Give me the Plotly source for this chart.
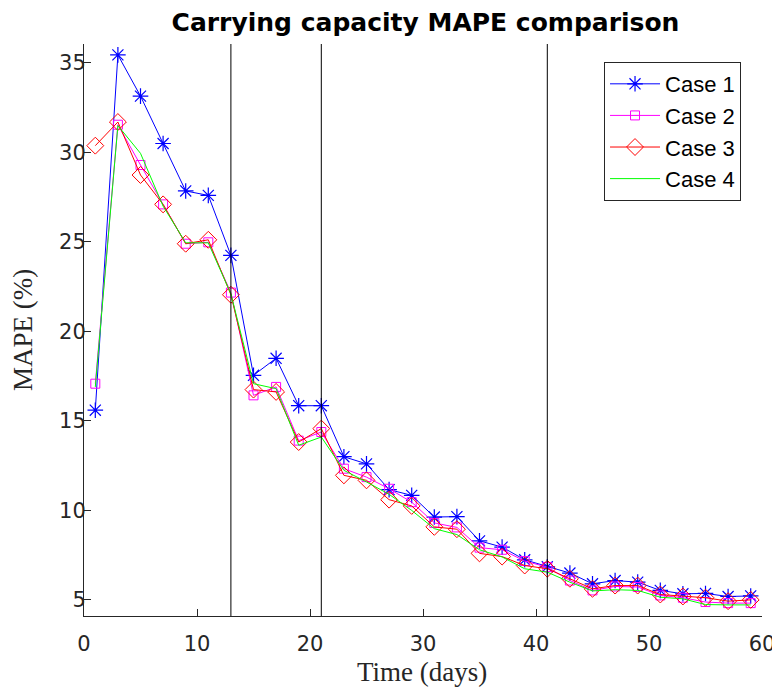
import plotly.graph_objects as go

days = [1, 3, 5, 7, 9, 11, 13, 15, 17, 19, 21, 23, 25, 27, 29, 31, 33, 35, 37, 39,
        41, 43, 45, 47, 49, 51, 53, 55, 57, 59]

case1 = [15.6, 35.45, 33.15, 30.5, 27.85, 27.6, 24.25, 17.55, 18.5, 15.85, 15.85, 13.0,
         12.6, 11.16, 10.84, 9.63, 9.65, 8.3, 7.95, 7.24, 6.85, 6.5, 5.9, 6.08, 5.99,
         5.53, 5.34, 5.36, 5.19, 5.22]
case2 = [17.08, 31.55, 29.3, 27.1, 24.9, 24.98, 22.17, 16.43, 16.9, 13.9, 14.38, 12.33,
         11.86, 11.21, 10.46, 9.3, 9.05, 7.92, 7.8, 7.17, 6.83, 6.08, 5.53, 5.75, 5.72,
         5.25, 5.12, 4.88, 4.82, 4.82]
case3 = [30.38, 31.7, 28.74, 27.1, 24.9, 25.12, 22.05, 16.75, 16.62, 13.82, 14.57, 11.96,
         11.68, 10.6, 10.25, 9.08, 8.95, 7.6, 7.42, 6.92, 6.74, 6.18, 5.62, 5.8, 5.8,
         5.3, 5.19, 5.12, 4.93, 5.0]
case4 = [16.9, 31.5, 29.95, 27.0, 24.95, 24.95, 22.1, 17.08, 16.8, 13.64, 14.1, 12.24,
         11.59, 10.9, 10.0, 8.98, 8.65, 7.8, 7.4, 6.74, 6.55, 5.99, 5.5, 5.57, 5.53,
         5.15, 5.06, 4.74, 4.72, 4.72]

vlines_x = [13, 21, 41]
x_ticks = [0, 10, 20, 30, 40, 50, 60]
y_ticks = [5, 10, 15, 20, 25, 30, 35]

fig = go.Figure()
fig.add_trace(go.Scatter(x=days, y=case1, name="Case 1", mode="lines+markers",
                         line=dict(color="#0000ff", width=1),
                         marker=dict(symbol="asterisk-open", size=13,
                                     line=dict(color="#0000ff", width=1.2))))
fig.add_trace(go.Scatter(x=days, y=case2, name="Case 2", mode="lines+markers",
                         line=dict(color="#ff00ff", width=1),
                         marker=dict(symbol="square-open", size=9, color="#ff00ff",
                                     line=dict(color="#ff00ff", width=1))))
fig.add_trace(go.Scatter(x=days, y=case3, name="Case 3", mode="lines+markers",
                         line=dict(color="#ff0000", width=1),
                         marker=dict(symbol="diamond-open", size=13, color="#ff0000",
                                     line=dict(color="#ff0000", width=1))))
fig.add_trace(go.Scatter(x=days, y=case4, name="Case 4", mode="lines",
                         line=dict(color="#00ff00", width=1)))

for xv in vlines_x:
    fig.add_shape(type="line", xref="x", yref="paper", x0=xv, x1=xv, y0=0, y1=1,
                  line=dict(color="black", width=1))

axis_common = dict(showline=True, linecolor="#262626", linewidth=1, ticks="inside",
                   ticklen=7, tickcolor="#262626", showgrid=False, zeroline=False,
                   mirror=False, automargin=False,
                   tickfont=dict(family="DejaVu Sans", size=21, color="#262626"))

fig.update_layout(
    width=772, height=680,
    paper_bgcolor="white", plot_bgcolor="white",
    margin=dict(l=76, r=18, t=36, b=72),
    title=dict(text="<b>Carrying capacity MAPE comparison</b>", x=0.5408, xanchor="center",
               y=0.979, yanchor="middle",
               font=dict(family="DejaVu Sans", size=25, color="black")),
    xaxis=dict(range=[0, 60], tickvals=x_ticks, ticklabelstandoff=9, **axis_common),
    yaxis=dict(range=[4.1, 36.06], tickvals=y_ticks, ticklabelstandoff=-7, **axis_common),
    legend=dict(x=0.767, y=0.9685, xanchor="left", yanchor="top",
                bgcolor="white", bordercolor="#262626", borderwidth=1,
                font=dict(family="Liberation Sans", size=22, color="black"),
                tracegroupgap=0, itemwidth=50),
    showlegend=True,
    annotations=[
        dict(text="Time (days)", xref="paper", yref="paper", x=0.4985, y=-0.098,
             xanchor="center", yanchor="middle", showarrow=False,
             font=dict(family="Liberation Serif", size=27, color="#262626")),
        dict(text="MAPE (%)", xref="paper", yref="paper", x=-0.09, y=0.5,
             xanchor="center", yanchor="middle", showarrow=False, textangle=-90,
             font=dict(family="Liberation Serif", size=27, color="#262626")),
    ],
)

fig.write_html("out.html")
